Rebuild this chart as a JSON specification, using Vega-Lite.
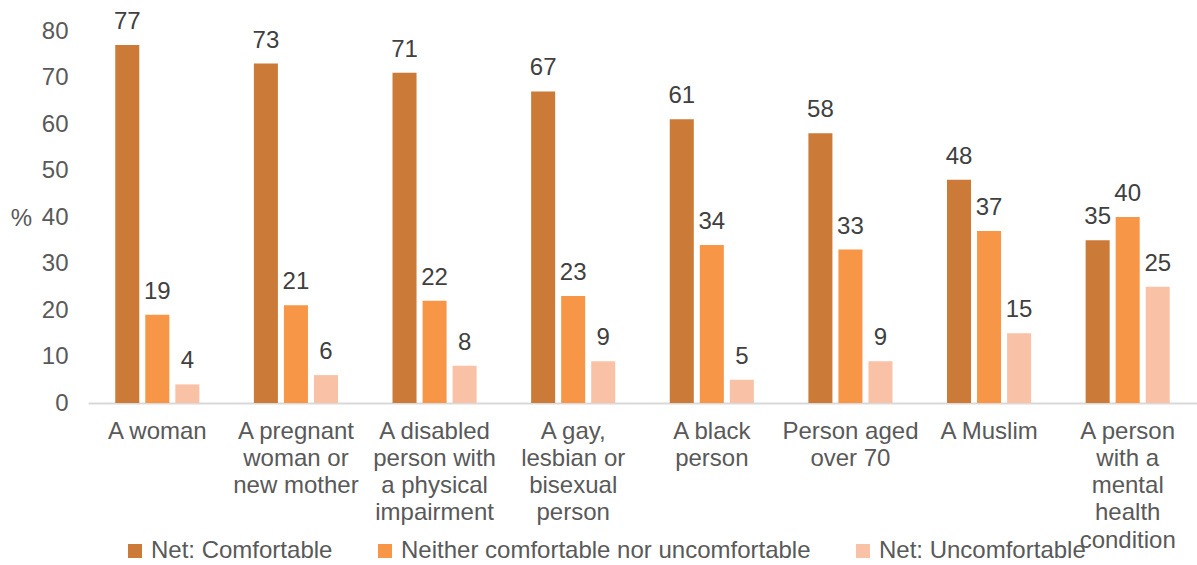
{
  "$schema": "https://vega.github.io/schema/vega-lite/v6.json",
  "autosize": {"type": "none"},
  "padding": {"left": 88, "top": 31, "right": 0, "bottom": 162},
  "width": 1109,
  "height": 372,
  "background": "white",
  "config": {
    "view": {"stroke": null},
    "font": "Liberation Sans"
  },
  "data": {
    "values": [
      {"group": "A woman", "series": "Net: Comfortable", "value": 77},
      {"group": "A woman", "series": "Neither comfortable nor uncomfortable", "value": 19},
      {"group": "A woman", "series": "Net: Uncomfortable", "value": 4},
      {"group": "A pregnant|woman or|new mother", "series": "Net: Comfortable", "value": 73},
      {"group": "A pregnant|woman or|new mother", "series": "Neither comfortable nor uncomfortable", "value": 21},
      {"group": "A pregnant|woman or|new mother", "series": "Net: Uncomfortable", "value": 6},
      {"group": "A disabled|person with|a physical|impairment", "series": "Net: Comfortable", "value": 71},
      {"group": "A disabled|person with|a physical|impairment", "series": "Neither comfortable nor uncomfortable", "value": 22},
      {"group": "A disabled|person with|a physical|impairment", "series": "Net: Uncomfortable", "value": 8},
      {"group": "A gay,|lesbian or|bisexual|person", "series": "Net: Comfortable", "value": 67},
      {"group": "A gay,|lesbian or|bisexual|person", "series": "Neither comfortable nor uncomfortable", "value": 23},
      {"group": "A gay,|lesbian or|bisexual|person", "series": "Net: Uncomfortable", "value": 9},
      {"group": "A black|person", "series": "Net: Comfortable", "value": 61},
      {"group": "A black|person", "series": "Neither comfortable nor uncomfortable", "value": 34},
      {"group": "A black|person", "series": "Net: Uncomfortable", "value": 5},
      {"group": "Person aged|over 70", "series": "Net: Comfortable", "value": 58},
      {"group": "Person aged|over 70", "series": "Neither comfortable nor uncomfortable", "value": 33},
      {"group": "Person aged|over 70", "series": "Net: Uncomfortable", "value": 9},
      {"group": "A Muslim", "series": "Net: Comfortable", "value": 48},
      {"group": "A Muslim", "series": "Neither comfortable nor uncomfortable", "value": 37},
      {"group": "A Muslim", "series": "Net: Uncomfortable", "value": 15},
      {"group": "A person|with a|mental|health|condition", "series": "Net: Comfortable", "value": 35},
      {"group": "A person|with a|mental|health|condition", "series": "Neither comfortable nor uncomfortable", "value": 40},
      {"group": "A person|with a|mental|health|condition", "series": "Net: Uncomfortable", "value": 25}
    ]
  },
  "encoding": {
    "x": {
      "field": "group", "type": "nominal", "sort": null,
      "scale": {"paddingInner": 0.35, "paddingOuter": 0.175},
      "axis": {
        "title": null, "labelAngle": 0, "labelExpr": "split(datum.label, '|')",
        "labelFontSize": 24, "labelColor": "#595959", "labelLineHeight": 27.3,
        "labelPadding": 16, "ticks": false, "domainColor": "#d9d9d9", "domainWidth": 2,
        "labelBaseline": "top", "labelLimit": 300
      }
    },
    "xOffset": {
      "field": "series", "type": "nominal", "sort": ["Net: Comfortable", "Neither comfortable nor uncomfortable", "Net: Uncomfortable"],
      "scale": {"paddingInner": 0.2, "paddingOuter": 0.1}
    },
    "y": {
      "field": "value", "type": "quantitative",
      "scale": {"domain": [0, 80], "nice": false},
      "axis": {
        "values": [0, 10, 20, 30, 40, 50, 60, 70, 80],
        "grid": false, "domain": false, "ticks": false,
        "labelFontSize": 24, "labelColor": "#595959", "labelPadding": 20,
        "title": "%", "titleAngle": 0, "titleX": -67, "titleY": 187,
        "titleAlign": "center", "titleBaseline": "middle",
        "titleFontSize": 24, "titleFontWeight": "normal", "titleColor": "#595959"
      }
    }
  },
  "layer": [
    {
      "mark": {"type": "bar"},
      "encoding": {
        "color": {
          "field": "series", "type": "nominal",
          "sort": ["Net: Comfortable", "Neither comfortable nor uncomfortable", "Net: Uncomfortable"],
          "scale": {
            "domain": ["Net: Comfortable", "Neither comfortable nor uncomfortable", "Net: Uncomfortable"],
            "range": ["#CC7A38", "#F79646", "#F9C2A6"]
          },
          "legend": {
            "title": null, "orient": "none", "direction": "horizontal",
            "legendX": 35, "legendY": 508, "padding": 0,
            "symbolType": "square", "symbolSize": 196, "symbolStrokeWidth": 0,
            "labelFontSize": 24, "labelColor": "#595959", "labelOffset": 4,
            "columnPadding": 40, "labelLimit": 600
          }
        }
      }
    },
    {
      "mark": {"type": "text", "baseline": "alphabetic", "dy": -16, "fontSize": 24, "color": "#404040"},
      "encoding": {
        "text": {"field": "value", "type": "quantitative"}
      }
    }
  ]
}
